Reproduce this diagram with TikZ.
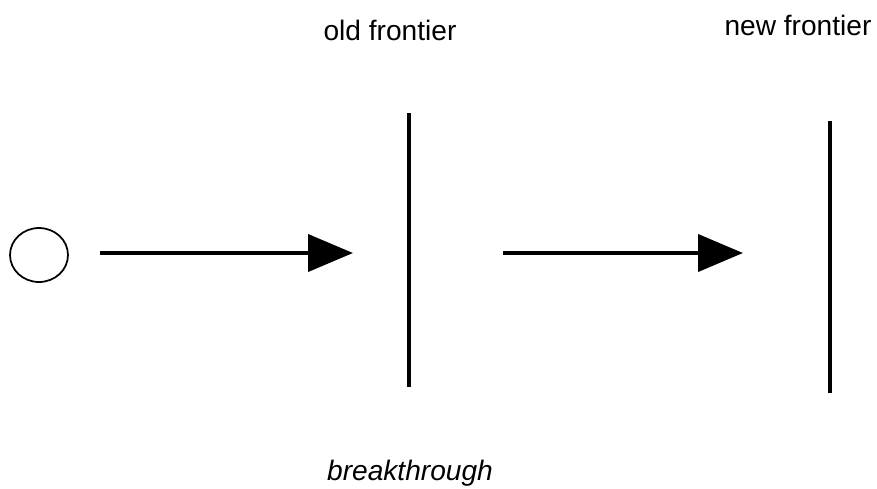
\documentclass[tikz,border=0pt]{standalone}
\usepackage{fontspec}
\setmainfont{Liberation Sans}
\usepackage{tikz}
\usetikzlibrary{arrows.meta,shapes.geometric}

\begin{document}
\begin{tikzpicture}[
    x=0.02cm, y=-0.02cm,
    txt/.style={font=\fontsize{16}{19}\selectfont, anchor=base},
    ball/.style={ellipse, draw, line width=1pt, minimum width=1.16cm, minimum height=1.08cm},
    frontier/.style={line width=2.2pt},
    arrow/.style={-{Triangle[length=0.9cm, width=0.74cm]}, line width=2.3pt}
]
\useasboundingbox (0,0) rectangle (877,488);

% Starting point
\node[ball] (ball) at (39,255) {};

% Frontier lines
\coordinate (oldtop) at (409,113);
\coordinate (oldbot) at (409,387);
\coordinate (newtop) at (830,121);
\coordinate (newbot) at (830,393);
\draw[frontier] (oldtop) -- (oldbot);
\draw[frontier] (newtop) -- (newbot);

% Labels
\node[txt] (oldlbl) at (390,40) {old frontier};
\node[txt] (newlbl) at (798,35) {new frontier};
\node[txt] (breaklbl) at (410,480) {\itshape breakthrough};

% Arrows
\coordinate (go1) at (100,253);
\coordinate (hit1) at (353,253);
\coordinate (go2) at (503,253);
\coordinate (hit2) at (743,253);
\draw[arrow] (go1) -- (hit1);
\draw[arrow] (go2) -- (hit2);

\end{tikzpicture}
\end{document}
